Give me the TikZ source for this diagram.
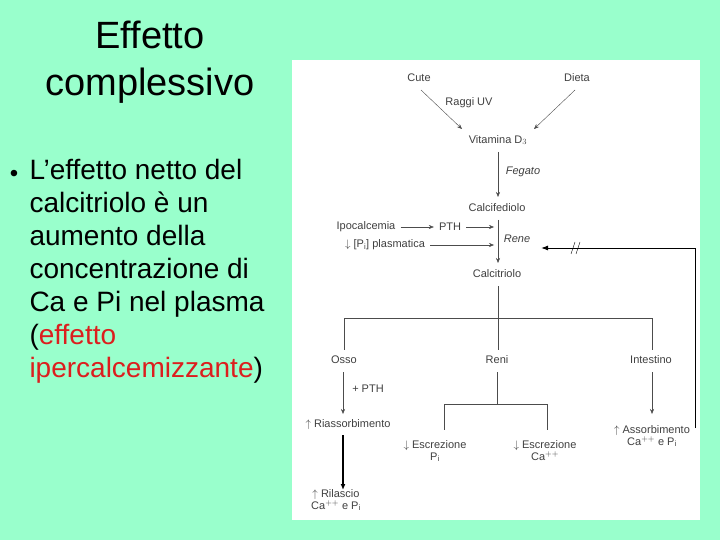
\documentclass[tikz,border=0pt]{standalone}
\usepackage{fontspec}
\setmainfont{Liberation Sans}
\usetikzlibrary{arrows.meta}
\definecolor{mint}{RGB}{153,255,204}
\definecolor{txtred}{RGB}{220,30,30}
\begin{document}
\begin{tikzpicture}[x=1pt,y=-1pt,
  lab/.style={font=\fontsize{11}{12}\selectfont,text=black!75,inner sep=1pt},
  ar/.style={draw=black!70,-{Stealth[length=5pt,width=4pt]}},
  ln/.style={draw=black!70},
  big/.style={font=\fontsize{38}{47}\selectfont,align=center},
  bul/.style={font=\fontsize{28}{33}\selectfont,align=left,anchor=north west}]
\fill[mint] (0,0) rectangle (720,540);
\useasboundingbox (0,0) rectangle (720,540);
\fill[white] (292,60) rectangle (700,520);
\node[big] (title) at (150,62) {Effetto\\complessivo};
\node[font=\fontsize{24}{33}\selectfont] (bullet) at (14,176) {•};
\node[bul] (body) at (26,156) {L’effetto netto del\\calcitriolo è un\\aumento della\\concentrazione di\\Ca e Pi nel plasma\\(\textcolor{txtred}{effetto}\\\textcolor{txtred}{ipercalcemizzante})};
% diagram
\node[lab] (cute) at (419,78) {Cute};
\node[lab] (dieta) at (577,78) {Dieta};
\node[lab] (uv) at (469,103) {Raggi UV};
\node[lab] (vit) at (498,140) {Vitamina D$_3$};
\node[lab] (calcife) at (497,208) {Calcifediolo};
\node[lab] (calcitr) at (497,274) {Calcitriolo};
\node[lab] (fegato) at (523,172) {\itshape Fegato};
\node[lab] (rene) at (517,239) {\itshape Rene};
\node[lab] (ipo) at (366,227) {Ipocalcemia};
\node[lab] (pth) at (450,227) {PTH};
\node[lab] (pi) at (385,245) {$\downarrow$ [P$_\mathrm{i}$] plasmatica};
\draw[ar] (421,90) -- (462,129);
\draw[ar] (575,90) -- (534,129);
\draw[ar] (498,152) -- (498,197);
\draw[ar] (498,220) -- (498,263);
\draw[ar,shorten <=4pt,shorten >=4pt] (ipo) -- (pth);
\draw[ar,shorten <=4pt] (pth) -- (494,227);
\draw[ar,shorten <=4pt] (pi) -- (494,245);
% tree
\coordinate (top) at (498,286);
\coordinate (bl) at (344,318);
\coordinate (bm) at (498,318);
\coordinate (br) at (652,318);
\draw[ln] (top) -- (bm);
\draw[ln] (bl) -- (br);
\node[lab] (osso) at (344,360) {Osso};
\node[lab] (reni) at (497,360) {Reni};
\node[lab] (inte) at (651,360) {Intestino};
\draw[ln] (bl) -- (344,350);
\draw[ln] (bm) -- (498,350);
\draw[ln] (br) -- (652,350);
\draw[ar] (343,372) -- (343,414);
\node[lab] (pthp) at (368,389) {+ PTH};
\node[lab] (riass) at (348,425) {$\uparrow$ Riassorbimento};
\draw[ln] (497,372) -- (497,404);
\draw[ln] (444,404) -- (547,404);
\draw[ln] (444,404) -- (444,430);
\draw[ln] (547,404) -- (547,430);
\node[lab,align=center] (escp) at (435,451) {$\downarrow$ Escrezione\\P$_\mathrm{i}$};
\node[lab,align=center] (escc) at (545,451) {$\downarrow$ Escrezione\\Ca$^{++}$};
\draw[ar] (652,372) -- (652,414);
\node[lab,align=center] (ass) at (652,436) {$\uparrow$ Assorbimento\\Ca$^{++}$ e P$_\mathrm{i}$};
\node[lab,align=center] (ril) at (336,500) {$\uparrow$ Rilascio\\Ca$^{++}$ e P$_\mathrm{i}$};
\draw[line width=1.3pt,-{Latex[length=6pt,width=5pt]}] (343,435) -- (343,490);
% feedback
\coordinate (fb1) at (695,428);
\coordinate (fb2) at (695,248);
\draw[line width=1pt,-{Latex[length=7pt,width=5pt]}] (fb1) -- (fb2) -- (541,248);
\draw (571,254) -- (575,242) (576,254) -- (580,242);
\end{tikzpicture}
\end{document}
